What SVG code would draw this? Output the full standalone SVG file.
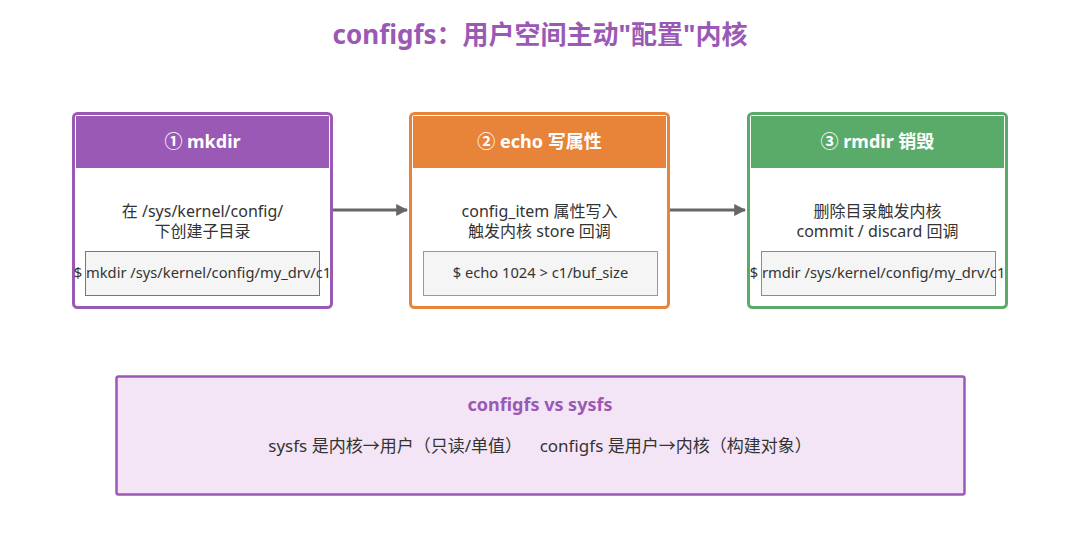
<svg xmlns="http://www.w3.org/2000/svg" width="1080" height="548" viewBox="0 0 1080 548">
<defs>
<style>
text{font-family:"Noto Sans","Noto Sans CJK SC",sans-serif;text-anchor:middle}
.title{font-size:26px;font-weight:bold;fill:#9b59b6}
.hd{font-size:18px;font-weight:bold;fill:#ffffff}
.body{font-size:16px;fill:#333}
.code{font-size:14.7px;fill:#333}
.conn{stroke:#666;stroke-width:3;fill:none}
</style>
<marker id="ah" viewBox="0 0 10 10" refX="9" refY="5" markerWidth="4" markerHeight="4" orient="auto"><path d="M0,0 L10,5 L0,10 z" fill="#666"/></marker>
</defs>
<rect width="1080" height="548" fill="#ffffff"/>
<text class="title" x="540" y="44">configfs：用户空间主动"配置"内核</text>
<g id="node1">
<rect x="73.5" y="113.5" width="258" height="194" rx="4" fill="#fff" stroke="#9b59b6" stroke-width="3"/>
<rect x="76" y="116" width="253" height="52" fill="#9b59b6"/>
<text class="hd" x="202.5" y="148">① mkdir</text>
<text class="body" x="202.5" y="217">在 /sys/kernel/config/</text>
<text class="body" x="202.5" y="237">下创建子目录</text>
<rect x="85.5" y="251.5" width="234" height="44" fill="#f5f5f5" stroke="#9b59b6" stroke-width="1"/>
<text class="code" x="202.5" y="278">$ mkdir /sys/kernel/config/my_drv/c1</text>
</g>
<g id="node2">
<rect x="410.5" y="113.5" width="258" height="194" rx="4" fill="#fff" stroke="#e8843a" stroke-width="3"/>
<rect x="413" y="116" width="253" height="52" fill="#e8843a"/>
<text class="hd" x="539.5" y="148">② echo 写属性</text>
<text class="body" x="539.5" y="217">config_item 属性写入</text>
<text class="body" x="539.5" y="237">触发内核 store 回调</text>
<rect x="423.5" y="251.5" width="234" height="44" fill="#f5f5f5" stroke="#e8843a" stroke-width="1"/>
<text class="code" x="540.5" y="278">$ echo 1024 &gt; c1/buf_size</text>
</g>
<g id="node3">
<rect x="748.5" y="113.5" width="258" height="194" rx="4" fill="#fff" stroke="#5aab69" stroke-width="3"/>
<rect x="751" y="116" width="253" height="52" fill="#5aab69"/>
<text class="hd" x="877.5" y="148">③ rmdir 销毁</text>
<text class="body" x="877.5" y="217">删除目录触发内核</text>
<text class="body" x="877.5" y="237">commit / discard 回调</text>
<rect x="761.5" y="251.5" width="234" height="44" fill="#f5f5f5" stroke="#5aab69" stroke-width="1"/>
<text class="code" x="877.5" y="278">$ rmdir /sys/kernel/config/my_drv/c1</text>
</g>
<g id="connectors">
<line class="conn" x1="333" y1="210" x2="407" y2="210" marker-end="url(#ah)"/>
<line class="conn" x1="670" y1="210" x2="745" y2="210" marker-end="url(#ah)"/>
</g>
<g id="note">
<rect x="116.5" y="376.5" width="848" height="118" rx="2" fill="#f3e5f5" stroke="#9b59b6" stroke-width="2.5"/>
<text x="540" y="411" style="font-size:18px;font-weight:bold;fill:#9b59b6">configfs vs sysfs</text>
<text class="body" x="540" y="452" style="font-size:17px;white-space:pre" xml:space="preserve">sysfs 是内核→用户（只读/单值）    configfs 是用户→内核（构建对象）</text>
</g>
</svg>
